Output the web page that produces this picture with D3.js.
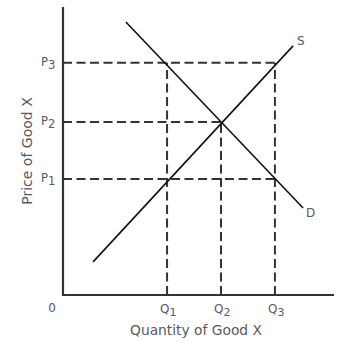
<!DOCTYPE html>
<html lang="en">
<head>
<meta charset="UTF-8">
<title>Supply and Demand</title>
<style>
  body { margin: 0; background: #fff; }
  svg { display: block; }
  .lbl { font-family: "DejaVu Sans", sans-serif; fill: #5a5a5a; }
</style>
<script src="https://d3js.org/d3.v7.min.js"></script>
</head>
<body>
<div id="chart"></div>
<script>
// price / quantity levels (chart units, 0..100)
const qLevels = [38.4, 58.3, 78.2];
const pLevels = [40.3, 60.1, 80.6];
const qLabels = ["1", "2", "3"];
const pLabels = ["1", "2", "3"];

// curve endpoints
const supply = [{ q: 11.1, p: 11.5 }, { q: 84.9, p: 86.5 }];
const demand = [{ q: 23.2, p: 94.8 }, { q: 88.6, p: 30.2 }];

const width = 352, height = 343;
const origin = { x: 63, y: 295 };

const x = d3.scaleLinear().domain([0, 100]).range([origin.x, 334]);
const y = d3.scaleLinear().domain([0, 100]).range([origin.y, 7]);

const svg = d3.select("#chart").append("svg")
  .attr("width", width)
  .attr("height", height);

// dashed guide lines
const guides = svg.append("g")
  .attr("stroke", "#333")
  .attr("stroke-width", 2)
  .attr("stroke-dasharray", "9,4.5");

// horizontal dashes: P3 -> Q3, P2 -> Q2, P1 -> Q3
const hEnds = [qLevels[2], qLevels[1], qLevels[2]];
pLevels.forEach((p, i) => {
  guides.append("line")
    .attr("x1", x(0)).attr("x2", x(hEnds[i]))
    .attr("y1", y(p)).attr("y2", y(p));
});
// vertical dashes: Q1 -> P3, Q2 -> P2, Q3 -> P3
const vEnds = [pLevels[2], pLevels[1], pLevels[2]];
qLevels.forEach((q, i) => {
  guides.append("line")
    .attr("x1", x(q)).attr("x2", x(q))
    .attr("y1", y(0)).attr("y2", y(vEnds[i]));
});

// supply and demand curves
const line = d3.line().x(d => x(d.q)).y(d => y(d.p));
svg.append("path").datum(supply)
  .attr("d", line).attr("fill", "none")
  .attr("stroke", "#111").attr("stroke-width", 1.6);
svg.append("path").datum(demand)
  .attr("d", line).attr("fill", "none")
  .attr("stroke", "#111").attr("stroke-width", 1.6);

// axes
const axes = svg.append("g").attr("stroke", "#333").attr("stroke-width", 2.2);
axes.append("line")
  .attr("x1", x(0)).attr("x2", x(0))
  .attr("y1", y(0) + 1).attr("y2", y(100));
axes.append("line")
  .attr("x1", x(0) - 1).attr("x2", x(100))
  .attr("y1", y(0)).attr("y2", y(0));

// curve labels
svg.append("text").attr("class", "lbl")
  .attr("x", x(supply[1].q) + 4).attr("y", y(supply[1].p) - 1)
  .attr("font-size", 12).text("S");
svg.append("text").attr("class", "lbl")
  .attr("x", x(demand[1].q) + 3).attr("y", y(demand[1].p) + 9)
  .attr("font-size", 12).text("D");

// P tick labels
pLevels.forEach((p, i) => {
  const t = svg.append("text").attr("class", "lbl")
    .attr("x", 41).attr("y", y(p) + 3)
    .attr("font-size", 11.5);
  t.append("tspan").text("P");
  t.append("tspan").attr("dy", 3).attr("font-size", 11.5).text(pLabels[i]);
});

// Q tick labels
qLevels.forEach((q, i) => {
  const t = svg.append("text").attr("class", "lbl")
    .attr("x", x(q) - 7).attr("y", 313)
    .attr("font-size", 12);
  t.append("tspan").text("Q");
  t.append("tspan").attr("dy", 3).attr("font-size", 11).text(qLabels[i]);
});

// origin
svg.append("text").attr("class", "lbl")
  .attr("x", 52).attr("y", 312)
  .attr("text-anchor", "middle").attr("font-size", 12).text("0");

// axis titles
svg.append("text").attr("class", "lbl")
  .attr("x", 196).attr("y", 335)
  .attr("text-anchor", "middle").attr("font-size", 13.8)
  .text("Quantity of Good X");
svg.append("text").attr("class", "lbl")
  .attr("transform", "translate(32,151) rotate(-90)")
  .attr("text-anchor", "middle").attr("font-size", 14)
  .text("Price of Good X");
</script>
</body>
</html>
